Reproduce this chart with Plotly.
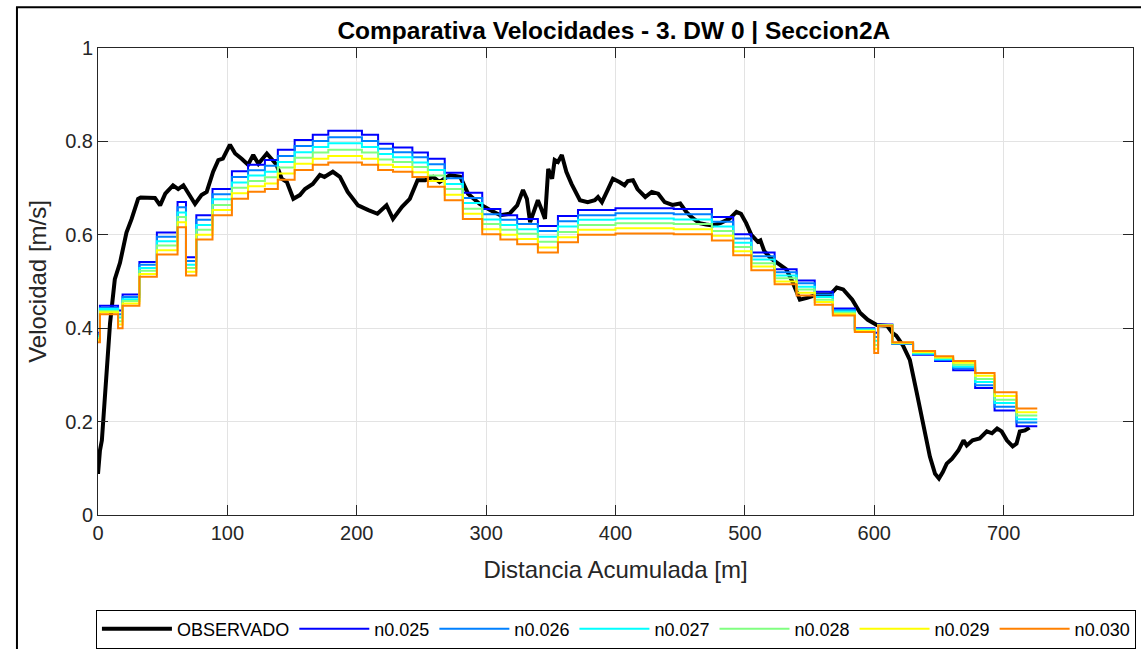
import plotly.graph_objects as go

# ---------------- data ----------------
obs_x = [0, 0.5, 1.5, 3, 5, 7, 9.3, 13, 17, 22, 26, 31, 33, 44, 48, 52, 58, 62, 66, 75, 80, 84,
         89, 93, 96.5, 102, 106, 111, 116, 120, 124, 130.5, 135, 138, 142, 146, 151, 156, 160,
         166, 171.5, 175, 181.5, 187, 193, 201, 209, 216, 223, 228, 235, 241, 247, 253, 259,
         264, 272, 280, 286, 295, 303, 311, 318, 324, 328.5, 331.5, 334, 338, 340, 343, 345.5,
         348, 351, 353, 355.5, 358.5, 362, 366, 372.5, 378.5, 384, 386.5, 389.5, 394, 398, 403,
         407, 409.5, 413.5, 417, 423, 428, 433, 438, 444, 450, 455, 460, 465, 470, 475, 481,
         488, 493.5, 497, 501, 505, 510, 512, 515, 520, 525, 532, 537, 542.5, 548, 556, 566,
         571, 576, 583, 589, 595, 602, 610, 614, 617, 622, 627.5, 633, 638, 643, 647, 650, 653,
         656, 660, 665, 669, 671.5, 676, 681.5, 687, 691, 695, 698.5, 702.5, 707, 710, 712.5,
         716.5, 720]
obs_v = [0.088, 0.12, 0.138, 0.16, 0.25, 0.33, 0.41, 0.505, 0.54, 0.605, 0.634, 0.677, 0.68,
         0.679, 0.663, 0.688, 0.706, 0.698, 0.706, 0.666, 0.685, 0.692, 0.735, 0.76, 0.763, 0.793,
         0.774, 0.763, 0.75, 0.771, 0.752, 0.774, 0.76, 0.75, 0.72, 0.713, 0.677, 0.685, 0.698,
         0.709, 0.728, 0.724, 0.735, 0.724, 0.692, 0.663, 0.653, 0.645, 0.663, 0.634, 0.66,
         0.677, 0.717, 0.717, 0.724, 0.713, 0.728, 0.724, 0.688, 0.666, 0.653, 0.642, 0.645,
         0.663, 0.696, 0.677, 0.627, 0.655, 0.674, 0.653, 0.634, 0.741, 0.72, 0.76, 0.756, 0.771,
         0.735, 0.709, 0.674, 0.67, 0.674, 0.681, 0.67, 0.696, 0.72, 0.713, 0.706, 0.715, 0.717,
         0.698, 0.681, 0.692, 0.688, 0.67, 0.664, 0.667, 0.648, 0.635, 0.625, 0.622, 0.62, 0.625,
         0.634, 0.649, 0.645, 0.625, 0.60, 0.585, 0.588, 0.565, 0.55, 0.54, 0.526, 0.498, 0.461,
         0.465, 0.472, 0.472, 0.487, 0.483, 0.461, 0.433, 0.418, 0.407, 0.405, 0.39, 0.384, 0.364,
         0.332, 0.26, 0.19, 0.125, 0.088, 0.078, 0.092, 0.11, 0.12, 0.138, 0.16, 0.149, 0.16,
         0.164, 0.179, 0.175, 0.185, 0.179, 0.16, 0.147, 0.153, 0.179, 0.181, 0.187]

# step breakpoints shared by all simulated series (last value = end of section)
step_x = [0, 1.5, 15.5, 19, 32, 45.5, 61.5, 68, 76, 88.5, 103.5, 116, 129, 139, 152, 166, 178,
          204, 216.5, 228, 243, 255, 268, 282, 297, 311, 324, 340, 355.5, 371, 400, 445, 474.5,
          491, 505, 523, 540, 554, 568, 585, 600, 603, 614, 630, 647, 661, 678, 693, 710, 726]

n025 = [0.390, 0.448, 0.438, 0.472, 0.542, 0.605, 0.670, 0.552, 0.642, 0.698, 0.736, 0.750,
        0.760, 0.782, 0.803, 0.814, 0.823, 0.814, 0.795, 0.787, 0.776, 0.763, 0.733, 0.690,
        0.655, 0.642, 0.634, 0.619, 0.640, 0.653, 0.657, 0.655, 0.638, 0.601, 0.562, 0.526,
        0.502, 0.478, 0.442, 0.400, 0.390, 0.408, 0.366, 0.343, 0.330, 0.310, 0.272, 0.224,
        0.190, 0.190]
n026 = [0.386, 0.444, 0.430, 0.467, 0.536, 0.596, 0.659, 0.544, 0.632, 0.687, 0.724, 0.738,
        0.748, 0.769, 0.790, 0.801, 0.809, 0.801, 0.784, 0.777, 0.766, 0.751, 0.721, 0.679,
        0.644, 0.632, 0.623, 0.608, 0.629, 0.642, 0.646, 0.644, 0.628, 0.592, 0.554, 0.520,
        0.496, 0.472, 0.439, 0.398, 0.381, 0.407, 0.367, 0.345, 0.332, 0.314, 0.278, 0.232,
        0.198, 0.198]
n027 = [0.382, 0.441, 0.423, 0.462, 0.529, 0.586, 0.648, 0.536, 0.621, 0.676, 0.712, 0.727,
        0.735, 0.756, 0.777, 0.788, 0.796, 0.788, 0.773, 0.766, 0.755, 0.739, 0.709, 0.668,
        0.633, 0.621, 0.612, 0.596, 0.618, 0.632, 0.635, 0.633, 0.618, 0.583, 0.547, 0.513,
        0.489, 0.467, 0.436, 0.397, 0.373, 0.407, 0.368, 0.346, 0.334, 0.318, 0.285, 0.240,
        0.205, 0.205]
n028 = [0.378, 0.437, 0.415, 0.458, 0.523, 0.577, 0.638, 0.529, 0.611, 0.664, 0.701, 0.715,
        0.723, 0.744, 0.765, 0.776, 0.782, 0.776, 0.761, 0.756, 0.745, 0.727, 0.698, 0.656,
        0.623, 0.611, 0.602, 0.585, 0.606, 0.621, 0.625, 0.623, 0.608, 0.574, 0.539, 0.507,
        0.483, 0.461, 0.433, 0.395, 0.364, 0.406, 0.368, 0.348, 0.336, 0.322, 0.291, 0.247,
        0.213, 0.213]
n029 = [0.374, 0.434, 0.408, 0.453, 0.516, 0.567, 0.627, 0.521, 0.600, 0.653, 0.689, 0.704,
        0.710, 0.731, 0.752, 0.763, 0.769, 0.763, 0.750, 0.745, 0.734, 0.715, 0.686, 0.645,
        0.612, 0.600, 0.591, 0.573, 0.595, 0.611, 0.614, 0.612, 0.598, 0.565, 0.532, 0.500,
        0.476, 0.456, 0.430, 0.394, 0.356, 0.406, 0.369, 0.349, 0.338, 0.326, 0.298, 0.255,
        0.220, 0.220]
n030 = [0.370, 0.430, 0.400, 0.448, 0.510, 0.558, 0.616, 0.513, 0.590, 0.642, 0.677, 0.692,
        0.698, 0.718, 0.739, 0.750, 0.755, 0.750, 0.739, 0.735, 0.724, 0.703, 0.674, 0.634,
        0.601, 0.590, 0.580, 0.562, 0.584, 0.600, 0.603, 0.601, 0.588, 0.556, 0.524, 0.494,
        0.470, 0.450, 0.427, 0.392, 0.347, 0.405, 0.370, 0.351, 0.340, 0.330, 0.304, 0.263,
        0.228, 0.228]

sim_names = ["n0.025", "n0.026", "n0.027", "n0.028", "n0.029", "n0.030"]
sim_values = [n025, n026, n027, n028, n029, n030]
sim_colors = ["#0000FF", "#0080FF", "#00FFFF", "#80FF80", "#FFFF00", "#FF8000"]

x_ticks = [0, 100, 200, 300, 400, 500, 600, 700, 800]
y_ticks = [0, 0.2, 0.4, 0.6, 0.8, 1]
y_ticklabels = ["0", "0.2", "0.4", "0.6", "0.8", "1"]

# ---------------- figure ----------------
FONT = "Liberation Sans, Arial, Helvetica, sans-serif"
fig = go.Figure()

fig.add_trace(go.Scatter(x=obs_x, y=obs_v, mode="lines", name="OBSERVADO",
                         line=dict(color="black", width=4)))

for name, vals, col in zip(sim_names, sim_values, sim_colors):
    fig.add_trace(go.Scatter(x=step_x, y=vals, mode="lines", name=name,
                             line=dict(color=col, width=2, shape="hv")))

axis_common = dict(
    automargin=False,
    showgrid=True, gridcolor="#e3e3e3", gridwidth=1,
    showline=True, linecolor="#262626", linewidth=1, mirror="ticks",
    ticks="inside", ticklen=10, tickcolor="#262626",
    zeroline=False,
    tickfont=dict(family=FONT, size=20, color="#262626"),
)

fig.update_xaxes(range=[0, 800], tickvals=x_ticks,
                 title=dict(text="Distancia Acumulada [m]", standoff=18,
                            font=dict(family=FONT, size=24, color="#262626")),
                 **axis_common)
fig.update_yaxes(range=[0, 1], tickvals=y_ticks, ticktext=y_ticklabels,
                 title=dict(text="Velocidad [m/s]", standoff=11,
                            font=dict(family=FONT, size=24, color="#262626")),
                 **axis_common)

fig.update_layout(
    width=1141, height=657,
    margin=dict(l=98, r=8, t=48, b=140),
    paper_bgcolor="white", plot_bgcolor="white",
    font=dict(family=FONT, color="#262626"),
    title=dict(text="<b>Comparativa Velocidades - 3. DW 0 | Seccion2A</b>",
               x=0.538, xref="container", xanchor="center",
               y=0.9537, yref="container", yanchor="middle",
               font=dict(family=FONT, size=24.5, color="black")),
    showlegend=True,
    legend=dict(orientation="h", x=-0.002, xanchor="left", y=-0.2025, yanchor="top",
                bordercolor="black", borderwidth=1, bgcolor="white",
                font=dict(family=FONT, size=18, color="black"),
                itemwidth=70, tracegroupgap=0),
    shapes=[dict(type="rect", xref="paper", yref="paper",
                 x0=-0.0783, x1=1.03, y0=-0.35, y1=1.087,
                 line=dict(color="black", width=2), fillcolor="rgba(0,0,0,0)",
                 layer="below")],
)

fig.write_html("out.html", config={"displayModeBar": False},
               post_script="document.body.style.margin='0px';")
